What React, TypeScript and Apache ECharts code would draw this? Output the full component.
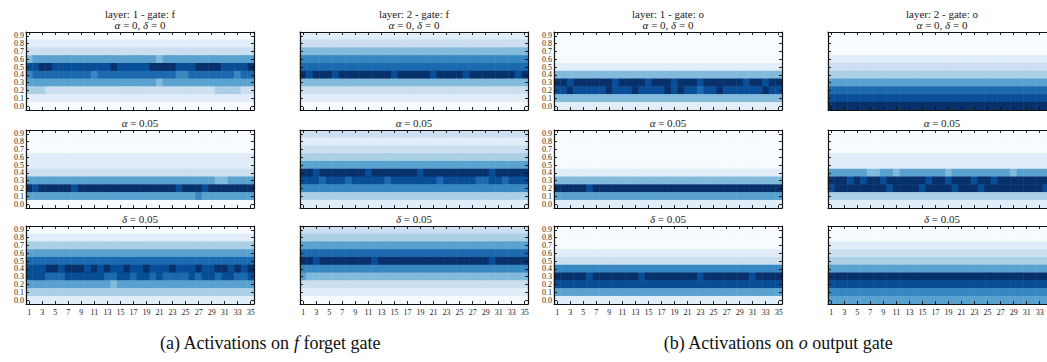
import React, { useEffect, useRef } from "react";
import * as echarts from "echarts";

// ---------- categories / labels ----------
const xCategories = ["1","2","3","4","5","6","7","8","9","10","11","12","13","14","15","16","17","18","19","20","21","22","23","24","25","26","27","28","29","30","31","32","33","34","35"];
const yCategories = ["0.0","0.1","0.2","0.3","0.4","0.5","0.6","0.7","0.8","0.9"];
const columnTitles = ["layer: 1 - gate: f", "layer: 2 - gate: f", "layer: 1 - gate: o", "layer: 2 - gate: o"];
const rowTitles = ["{i|α} = 0, {i|δ} = 0", "{i|α} = 0.05", "{i|δ} = 0.05"];
const captions = ["{n|(a) Activations on }{i|f}{n| forget gate}", "{n|(b) Activations on }{i|o}{n| output gate}"];

// ---------- heatmap values (0..9 intensity), rows listed from 0.9 (top) to 0.0 (bottom) ----------
const L1F_base = [
  "00000 00000 00000 00000 00000 00000 00000",
  "11111 11111 11111 11111 11111 11111 11111",
  "22222 22222 22222 22222 22222 22222 22222",
  "45555 55555 55555 55555 45555 55555 55555",
  "88998 88888 88898 88889 99988 89999 88889",
  "67777 77777 67777 77777 77766 77777 77677",
  "55555 55555 55555 55555 45555 55555 55555",
  "33322 22222 22222 22222 22222 22223 33322",
  "11111 11111 11111 11111 11111 11111 11111",
  "00000 00000 00000 00000 00000 00000 00000",
];
const L1F_alpha = [
  "00000 00000 00000 00000 00000 00000 00000",
  "00000 00000 00000 00000 00000 00000 00000",
  "00000 00000 00000 00000 00000 00000 00000",
  "11111 11111 11111 11111 11111 11111 11111",
  "11111 11111 11111 11111 11111 11111 11111",
  "22222 22222 22222 22222 22222 22222 22222",
  "55555 55555 55555 55555 55555 55554 45555",
  "98999 99899 99999 99999 99989 99899 99999",
  "55555 55555 55555 55555 55555 56555 55555",
  "00000 00000 00000 00000 00000 00000 00000",
];
const L1F_delta = [
  "00000 00000 00000 00000 00000 00000 00000",
  "11111 11111 11111 11111 11111 11111 11111",
  "33333 33333 33333 33333 33333 33333 33333",
  "55555 55555 55555 55555 55555 55555 55555",
  "77777 77777 77777 77777 77777 77777 77777",
  "88899 89998 98988 98898 88988 89889 98989",
  "88877 78888 88778 87887 87777 87887 88778",
  "55555 55555 55545 55555 55555 55555 55555",
  "33333 33333 33333 33333 33333 33333 33333",
  "11111 11111 11111 11111 11111 11111 11111",
];
const L2F_base = [
  "11111 11111 11111 11111 11111 11111 11111",
  "22222 22222 22222 22222 22222 22222 22222",
  "44444 44444 44444 44444 44444 44444 44444",
  "66666 66666 66666 66666 66666 66666 66666",
  "77777 77777 77777 77777 77777 77777 77777",
  "98999 89999 99998 99999 89999 89999 99989",
  "44444 44444 44444 44444 44444 44444 44444",
  "22222 22222 22222 22222 22222 22222 22222",
  "11111 11111 11111 11111 11111 11111 11111",
  "00000 00000 00000 00000 00000 00000 00000",
];
const L2F_alpha = [
  "22222 22222 22222 22222 22222 22222 22222",
  "11111 11111 11111 11111 11111 11111 11111",
  "22222 22222 22222 22222 22222 22222 22222",
  "33333 33333 33333 33333 33333 33333 33333",
  "55555 55555 55555 55555 55555 55555 55555",
  "99899 99999 89999 99989 99999 99998 99999",
  "88878 88788 88878 88888 87888 88778 87888",
  "66666 66666 66666 66666 66666 66666 66666",
  "33333 33333 33333 33333 33333 33333 33333",
  "11111 11111 11111 11111 11111 11111 11111",
];
const L2F_delta = [
  "22222 22222 22222 22222 22222 22222 22222",
  "33333 33333 33333 33333 33333 33333 33333",
  "55555 55555 55555 55555 55555 55555 55555",
  "77777 77777 77777 77777 77777 77777 77777",
  "99899 99999 98999 99999 99999 99998 99999",
  "66666 66666 66666 66666 66666 66666 66666",
  "54444 44444 44444 44444 44444 44444 44444",
  "22222 22222 22222 22222 22222 22222 22222",
  "11111 11111 11111 11111 11111 11111 11111",
  "00000 00000 00000 00000 00000 00000 00000",
];
const L1O_base = [
  "00000 00000 00000 00000 00000 00000 00000",
  "00000 00000 00000 00000 00000 00000 00000",
  "00000 00000 00000 00000 00000 00000 00000",
  "00000 00000 00000 00000 00000 00000 00000",
  "11111 11111 11111 11111 11111 11111 11111",
  "44444 44444 44444 44444 44444 44444 44444",
  "99899 99998 99998 99989 99899 99998 99899",
  "88988 88898 88988 88989 88788 98888 88988",
  "44444 44444 44444 44444 44444 44444 44444",
  "11111 11111 11111 11111 11111 11111 11111",
];
const L1O_alpha = [
  "00000 00000 00000 00000 00000 00000 00000",
  "00000 00000 00000 00000 00000 00000 00000",
  "00000 00000 00000 00000 00000 00000 00000",
  "00000 00000 00000 00000 00000 00000 00000",
  "00000 00000 00000 00000 00000 00000 00000",
  "11111 11111 11111 11111 11111 11111 11111",
  "44444 44444 44444 44444 44444 44444 44444",
  "99999 89999 99999 99999 99999 99999 99999",
  "55555 55555 55555 55555 55555 55555 55555",
  "11111 11111 11111 11111 11111 11111 11111",
];
const L1O_delta = [
  "00000 00000 00000 00000 00000 00000 00000",
  "00000 00000 00000 00000 00000 00000 00000",
  "00000 00000 00000 00000 00000 00000 00000",
  "11111 11111 11111 11111 11111 11111 11111",
  "22222 22222 22222 22222 22222 22222 22222",
  "66666 66666 66666 66666 66666 66666 66666",
  "99999 89999 99989 99999 99899 99999 89999",
  "88888 88888 88888 88888 88888 88888 88888",
  "55555 55555 55555 55555 55555 55555 55555",
  "11111 11111 11111 11111 11111 11111 11111",
];
const L2O_base = [
  "00000 00000 00000 00000 00000 00000 00000",
  "00000 00000 00000 00000 00000 00000 00000",
  "00000 00000 00000 00000 00000 00000 00000",
  "11111 11111 11111 11111 11111 11111 11111",
  "22222 22222 22222 22222 22222 22222 22222",
  "33333 33333 33333 33333 33333 33333 33333",
  "55555 55555 55555 55555 55555 55555 55555",
  "77777 77777 77777 77777 77777 77777 77777",
  "88888 88888 88888 88888 88888 88888 88888",
  "99999 99999 99999 99999 99999 99999 99999",
];
const L2O_alpha = [
  "00000 00000 00000 00000 00000 00000 00000",
  "00000 00000 00000 00000 00000 00000 00000",
  "00000 00000 00000 00000 00000 00000 00000",
  "11111 11111 11111 11111 11111 11111 11111",
  "11111 11111 11111 11111 11111 11111 11111",
  "55555 54455 45555 55545 55555 55545 55555",
  "99989 89989 99999 89989 99899 89999 99999",
  "89999 99998 99998 99998 99989 99999 99989",
  "33333 33333 33333 33333 33333 33333 33333",
  "11111 11111 11111 11111 11111 11111 11111",
];
const L2O_delta = [
  "00000 00000 00000 00000 00000 00000 00000",
  "00000 00000 00000 00000 00000 00000 00000",
  "11111 11111 11111 11111 11111 11111 11111",
  "22222 22222 22222 22222 22222 22222 22222",
  "33333 33333 33333 33333 33333 33333 33333",
  "55555 55555 55555 55555 55555 55555 55555",
  "99999 99999 99999 99999 99999 99999 99999",
  "88888 88888 88888 88888 88888 88888 88888",
  "66666 66666 66666 66666 66666 66666 66666",
  "55555 55555 55555 55555 55555 55555 55555",
];

// panels[column][row]
const panels = [
  [L1F_base, L1F_alpha, L1F_delta],
  [L2F_base, L2F_alpha, L2F_delta],
  [L1O_base, L1O_alpha, L1O_delta],
  [L2O_base, L2O_alpha, L2O_delta],
];

const BLUES = ["#f7fbff", "#deebf7", "#c6dbef", "#9ecae1", "#6baed6", "#4292c6", "#2171b5", "#08519c", "#08306b"];
const FONT = "Liberation Serif";

function toCells(rows: string[]) {
  const out: number[][] = [];
  rows.forEach((r, ri) => {
    const s = r.replace(/\s+/g, "");
    for (let c = 0; c < s.length && c < xCategories.length; c++) {
      out.push([c, yCategories.length - 1 - ri, Number(s[c])]);
    }
  });
  return out;
}

export default function App() {
  const ref = useRef<HTMLDivElement>(null);
  useEffect(() => {
    document.body.style.margin = "0";
    if (!ref.current) return;
    const chart = echarts.init(ref.current, undefined, { renderer: "svg" });

    const lefts = [26, 300, 554, 828];
    const W = 228;
    const tops = [32, 130, 226];
    const H = 78;

    const grid: any[] = [];
    const xAxis: any[] = [];
    const yAxis: any[] = [];
    const series: any[] = [];
    const graphic: any[] = [];

    const axisLine = { show: true, onZero: false, lineStyle: { color: "#111", width: 1.2 } };
    const tick = (interval: number) => ({
      show: true, inside: true, alignWithLabel: true, interval, length: 3,
      lineStyle: { color: "#111", width: 0.9 },
    });

    let k = 0;
    for (let j = 0; j < 4; j++) {
      for (let i = 0; i < 3; i++) {
        const lastCol = j === 3;
        grid.push({ left: lefts[j], top: tops[i], width: W, height: H, outerBoundsMode: "none", containLabel: false });
        xAxis.push({
          gridIndex: k, type: "category", data: xCategories, position: "bottom", z: 10,
          axisLine, axisTick: tick(1), splitLine: { show: false },
          axisLabel: {
            show: i === 2, interval: 1, fontSize: 8, fontFamily: FONT, color: "#222", margin: 4, hideOverlap: false,
            formatter: (v: string) => (lastCol && v === "35" ? "" : v),
          },
        });
        xAxis.push({
          gridIndex: k, type: "category", data: xCategories, position: "top", z: 10,
          axisLine, axisTick: tick(1), splitLine: { show: false }, axisLabel: { show: false },
        });
        yAxis.push({
          gridIndex: k, type: "category", data: yCategories, position: "left", z: 10,
          axisLine, axisTick: tick(0), splitLine: { show: false },
          axisLabel: { show: j === 0 || j === 2, interval: 0, fontSize: 8, fontFamily: FONT, color: "#222", margin: 2, hideOverlap: false },
        });
        yAxis.push({
          gridIndex: k, type: "category", data: yCategories, position: "right", z: 10,
          axisLine, axisTick: tick(0), splitLine: { show: false }, axisLabel: { show: false },
        });
        series.push({
          type: "heatmap", xAxisIndex: 2 * k, yAxisIndex: 2 * k,
          data: toCells(panels[j][i]), itemStyle: { borderWidth: 0 },
          emphasis: { disabled: true }, progressive: 0,
        });
        graphic.push({
          type: "text", x: lefts[j] + W / 2, y: tops[i] - 7,
          style: {
            text: rowTitles[i], align: "center", verticalAlign: "middle",
            fontSize: 11, fontFamily: FONT, fill: "#222",
            rich: { i: { fontStyle: "italic", fontSize: 11, fontFamily: FONT, fill: "#222" } },
          },
        });
        k++;
      }
      graphic.push({
        type: "text", x: lefts[j] + W / 2, y: 14,
        style: { text: columnTitles[j], align: "center", verticalAlign: "middle", fontSize: 11, fontFamily: FONT, fill: "#222" },
      });
    }

    const capX = [270, 778];
    captions.forEach((c, idx) => {
      graphic.push({
        type: "text", x: capX[idx], y: 343,
        style: {
          text: c, align: "center", verticalAlign: "middle", fontSize: 18, fontFamily: FONT, fill: "#111",
          rich: {
            n: { fontSize: 18, fontFamily: FONT, fill: "#111" },
            i: { fontSize: 18, fontFamily: FONT, fontStyle: "italic", fill: "#111" },
          },
        },
      });
    });

    chart.setOption({
      animation: false,
      backgroundColor: "#ffffff",
      textStyle: { fontFamily: FONT },
      grid, xAxis, yAxis, series, graphic,
      visualMap: {
        show: false, type: "continuous", min: 0, max: 9, dimension: 2,
        seriesIndex: series.map((_, idx) => idx),
        inRange: { color: BLUES },
      },
    });
    return () => chart.dispose();
  }, []);

  return <div ref={ref} style={{ position: "absolute", left: 0, top: 0, width: 1047, height: 362, background: "#fff" }} />;
}
